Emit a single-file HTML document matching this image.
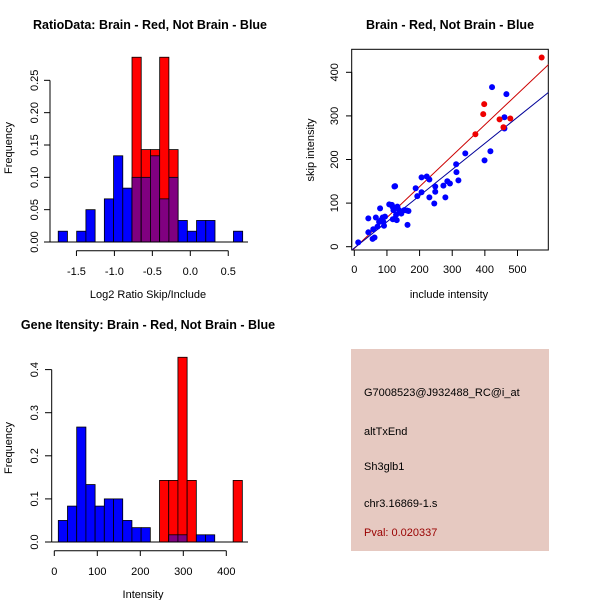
<!DOCTYPE html>
<html><head><meta charset="utf-8"><style>
body{margin:0;background:#fff}
svg{display:block;font-family:"Liberation Sans",sans-serif;fill:#000}
</style></head><body>
<svg id="s" width="600" height="600" viewBox="0 0 600 600"></svg>
<script>
// ---- Ratio histogram data ----
const ratioStart = -1.74, ratioWidth = 0.1215;
const ratioBlue = [0.0167,0,0.0167,0.05,0,0.0667,0.1333,0.0833,0.1,0.1,0.1333,0.0667,0.1,0.0333,0.0167,0.0333,0.0333,0,0,0.0167];
const ratioRed  = [0,0,0,0,0,0,0,0,0.2857,0.1429,0.1429,0.2857,0.1429,0,0,0,0,0,0,0];
const ratioXTicks = [-1.5,-1.0,-0.5,0.0,0.5];
const ratioXLabels = ["-1.5","-1.0","-0.5","0.0","0.5"];
const ratioYTicks = [0,0.05,0.10,0.15,0.20,0.25];
const ratioYLabels = ["0.00","0.05","0.10","0.15","0.20","0.25"];
// ---- Intensity histogram data ----
const intStart = 9.3, intWidth = 21.4;
const intBlue = [0.05,0.0833,0.2667,0.1333,0.0833,0.1,0.1,0.05,0.0333,0.0333,0,0,0.0167,0.0167,0,0.0167,0.0167,0,0,0];
const intRed  = [0,0,0,0,0,0,0,0,0,0,0,0.1429,0.1429,0.4286,0.1429,0,0,0,0,0.1429];
const intXTicks = [0,100,200,300,400];
const intYTicks = [0,0.1,0.2,0.3,0.4];
const intYLabels = ["0.0","0.1","0.2","0.3","0.4"];
// ---- Scatter data ----
const blueX = [12,43,43,56,62,58,66,71,76,79,82,87,91,94,89,107,115,117,120,123,125,118,128,130,132,137,144,153,161,163,166,188,193,206,206,222,230,230,245,248,248,273,279,285,293,312,313,319,340,399,417,422,460,460,466];
const blueY = [10,65,33,18,21,40,67,46,57,88,61,67,48,69,57,97,96,92,84,138,139,63,73,61,92,84,76,84,83,50,82,134,116,125,159,161,154,113,99,138,126,140,113,150,145,189,171,152,214,198,219,366,297,271,350];
const redX = [371,395,398,445,457,478,574];
const redY = [258,304,327,292,274,294,434];
const lineIntercept = [-4,-3];
const lineSlope = [0.709,0.6];
const scXTicks = [0,100,200,300,400,500];
const scYTicks = [0,100,200,300,400];

const NS="http://www.w3.org/2000/svg", S=document.getElementById('s');
function mk(tag,attrs,parent){const e=document.createElementNS(NS,tag);for(const k in attrs)e.setAttribute(k,attrs[k]);(parent||S).appendChild(e);return e;}
function txt(x,y,s,attrs){const e=mk('text',Object.assign({x:x,y:y},attrs||{}));e.textContent=s;return e;}
function ln(x1,y1,x2,y2,c,w){return mk('line',{x1:x1,y1:y1,x2:x2,y2:y2,stroke:c||'#000','stroke-width':w||1});}

// ===== Panel 1 =====
{
const g=mk('g',{});


const X=v=>190.3+(v-0)*75.9, Y=v=>242-v*646.7;
const t=txt(150,29,"RatioData: Brain - Red, Not Brain - Blue",{'text-anchor':'middle','font-size':12.5,'font-weight':'bold'});

for(let i=0;i<ratioBlue.length;i++){
  const x0=X(ratioStart+i*ratioWidth), x1=X(ratioStart+(i+1)*ratioWidth);
  const b=ratioBlue[i], r=ratioRed[i];
  if(b>0){const e=mk('rect',{x:x0,y:Y(b),width:x1-x0,height:Y(0)-Y(b),fill:'#0000ff',stroke:'#000','stroke-width':0.8},g);
    }
  if(r>0){const e=mk('rect',{x:x0,y:Y(r),width:x1-x0,height:Y(0)-Y(r),fill:'#ff0000',stroke:'#000','stroke-width':0.8},g);
    }
  const m=Math.min(b,r);
  if(m>0){const e=mk('rect',{x:x0,y:Y(m),width:x1-x0,height:Y(0)-Y(m),fill:'#800080',stroke:'#000','stroke-width':0.8},g);
    }
}
ln(50,242,248,242);
ln(50,Y(0),50,Y(0.25));
ratioYTicks.forEach((v,i)=>{ln(44,Y(v),50,Y(v));const l=txt(38,Y(v),ratioYLabels[i],{'text-anchor':'middle','font-size':11,transform:`rotate(-90 38 ${Y(v)})`});});
ln(X(-1.5),250.7,X(0.5),250.7);
ratioXTicks.forEach((v,i)=>{ln(X(v),250.7,X(v),256);const l=txt(X(v),275,ratioXLabels[i],{'text-anchor':'middle','font-size':11});});
const xl=txt(148,298,"Log2 Ratio Skip/Include",{'text-anchor':'middle','font-size':11});
const yl=txt(12,148,"Frequency",{'text-anchor':'middle','font-size':11,transform:'rotate(-90 12 148)'});
}

// ===== Panel 2 scatter =====
{
const X=v=>354.3+v*0.3264, Y=v=>246.7-v*0.4360;
const t=txt(450,29,"Brain - Red, Not Brain - Blue",{'text-anchor':'middle','font-size':12.5,'font-weight':'bold'});

const box=mk('rect',{x:351.7,y:49.3,width:196.6,height:200.7,fill:'none',stroke:'#000'});

mk('clipPath',{id:'cp'}).appendChild(mk('rect',{x:351.7,y:49.3,width:196.6,height:200.7}));
const cols=['#cc0000','#000099'];
lineSlope.forEach((s,i)=>{
  const x0=-20,x1=620;
  const e=mk('line',{x1:X(x0),y1:Y(lineIntercept[i]+s*x0),x2:X(x1),y2:Y(lineIntercept[i]+s*x1),stroke:cols[i],'stroke-width':1,'clip-path':'url(#cp)'});
  
});
blueX.forEach((v,i)=>{const c=mk('circle',{cx:X(v),cy:Y(blueY[i]),r:3,fill:'#0000ff'});});
redX.forEach((v,i)=>{const c=mk('circle',{cx:X(v),cy:Y(redY[i]),r:3,fill:'#ee0000'});});
ln(X(0),250,X(500),250);
scXTicks.forEach(v=>{ln(X(v),250,X(v),256);const l=txt(X(v),273,String(v),{'text-anchor':'middle','font-size':11});});
ln(351.7,Y(0),351.7,Y(400));
scYTicks.forEach(v=>{ln(346,Y(v),351.7,Y(v));const l=txt(338,Y(v),String(v),{'text-anchor':'middle','font-size':11,transform:`rotate(-90 338 ${Y(v)})`});});
const xl=txt(449,298,"include intensity",{'text-anchor':'middle','font-size':11});
const yl=txt(314,150,"skip intensity",{'text-anchor':'middle','font-size':11,transform:'rotate(-90 314 150)'});
}

// ===== Panel 3 =====
{
const X=v=>54.3+v*0.43, Y=v=>542-v*431;
const t=txt(148,329,"Gene Itensity: Brain - Red, Not Brain - Blue",{'text-anchor':'middle','font-size':12.5,'font-weight':'bold'});

for(let i=0;i<intBlue.length;i++){
  const x0=X(intStart+i*intWidth), x1=X(intStart+(i+1)*intWidth);
  const b=intBlue[i], r=intRed[i];
  if(b>0){const e=mk('rect',{x:x0,y:Y(b),width:x1-x0,height:Y(0)-Y(b),fill:'#0000ff',stroke:'#000','stroke-width':0.8});
    }
  if(r>0){const e=mk('rect',{x:x0,y:Y(r),width:x1-x0,height:Y(0)-Y(r),fill:'#ff0000',stroke:'#000','stroke-width':0.8});
    }
  const m=Math.min(b,r);
  if(m>0){const e=mk('rect',{x:x0,y:Y(m),width:x1-x0,height:Y(0)-Y(m),fill:'#800080',stroke:'#000','stroke-width':0.8});
    }
}
ln(51.7,542,248,542);
ln(51.7,Y(0),51.7,Y(0.4));
intYTicks.forEach((v,i)=>{ln(45,Y(v),51.7,Y(v));const l=txt(38,Y(v),intYLabels[i],{'text-anchor':'middle','font-size':11,transform:`rotate(-90 38 ${Y(v)})`});});
ln(X(0),550.7,X(400),550.7);
intXTicks.forEach(v=>{ln(X(v),550.7,X(v),556);const l=txt(X(v),575,String(v),{'text-anchor':'middle','font-size':11});});
const xl=txt(143,598,"Intensity",{'text-anchor':'middle','font-size':11});
const yl=txt(12,448,"Frequency",{'text-anchor':'middle','font-size':11,transform:'rotate(-90 12 448)'});
}

// ===== Panel 4 info box =====
{
const r=mk('rect',{x:351,y:349,width:198,height:202,fill:'#e6c9c1'});

const lines=[["G7008523@J932488_RC@i_at",396,'#000','probe-id'],["altTxEnd",435,'#000','event-type'],["Sh3glb1",470,'#000','gene-symbol'],["chr3.16869-1.s",507,'#000','locus-id'],["Pval: 0.020337",536,'#990000','p-value']];
lines.forEach(l=>{const e=txt(364,l[1],l[0],{'font-size':11,fill:l[2]});});
}
</script>
</body></html>
